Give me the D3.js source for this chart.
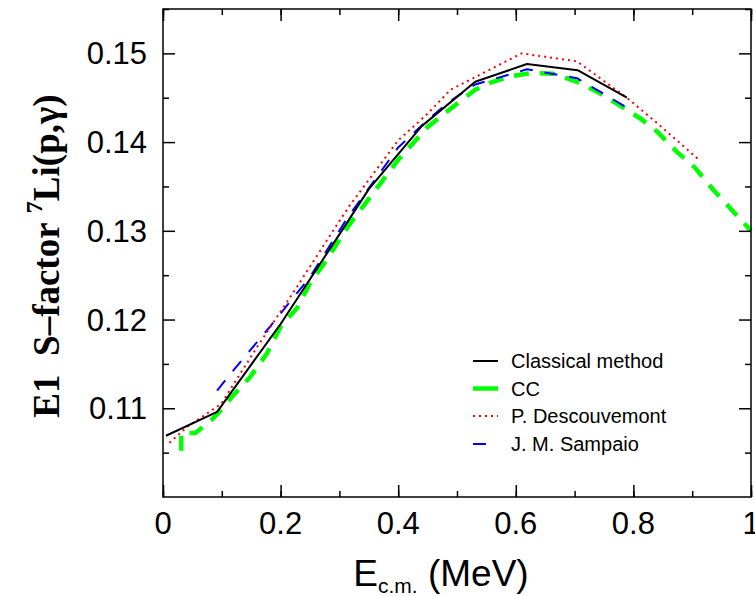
<!DOCTYPE html>
<html><head><meta charset="utf-8">
<script src="https://cdn.jsdelivr.net/npm/d3@7"></script>
<style>body{margin:0;background:#fff}svg{display:block}</style>
</head><body><svg id="c" width="755" height="596"></svg>
<script>
// ---- data ----
const classicalE = [0.005, 0.092, 0.2, 0.3, 0.35, 0.44, 0.531, 0.619, 0.705, 0.789];
const classicalS = [0.1069, 0.1096, 0.1195, 0.1296, 0.1347, 0.1418, 0.1468, 0.1488, 0.1481, 0.1450];

const ccE = [0.031, 0.031, 0.055, 0.083, 0.100, 0.120, 0.148, 0.177, 0.200, 0.228, 0.250, 0.276, 0.300, 0.317, 0.350, 0.400, 0.450, 0.488, 0.531, 0.557, 0.590, 0.630, 0.664, 0.704, 0.743, 0.780, 0.811, 0.840, 0.874, 0.905, 0.936, 0.964, 1.000];
const ccS = [0.1052, 0.1072, 0.1072, 0.1087, 0.1099, 0.1115, 0.1135, 0.1162, 0.1192, 0.1213, 0.1241, 0.1265, 0.1290, 0.1307, 0.1336, 0.1380, 0.1417, 0.1437, 0.1459, 0.1467, 0.1474, 0.1478, 0.1477, 0.1468, 0.1455, 0.1440, 0.1427, 0.1412, 0.1389, 0.1371, 0.1346, 0.1326, 0.1300];

const descE = [0.011, 0.041, 0.099, 0.160, 0.228, 0.296, 0.317, 0.400, 0.450, 0.489, 0.545, 0.610, 0.704, 0.789, 0.841, 0.910];
const descS = [0.1061, 0.1079, 0.1105, 0.1169, 0.1237, 0.1307, 0.1328, 0.1402, 0.1432, 0.1459, 0.1478, 0.1500, 0.1491, 0.1450, 0.1421, 0.1381];

const sampE = [0.092, 0.120, 0.182, 0.250, 0.313, 0.400, 0.450, 0.488, 0.531, 0.619, 0.704, 0.743, 0.786];
const sampS = [0.1120, 0.1143, 0.1192, 0.1248, 0.1314, 0.1394, 0.1425, 0.1446, 0.1465, 0.1482, 0.1472, 0.1457, 0.1440];

const xTicks = [0, 0.2, 0.4, 0.6, 0.8, 1];
const xTickLabels = ["0", "0.2", "0.4", "0.6", "0.8", "1"];
const yTicks = [0.11, 0.12, 0.13, 0.14, 0.15];
const yTickLabels = ["0.11", "0.12", "0.13", "0.14", "0.15"];
const legendLabels = ["Classical method", "CC", "P. Descouvemont", "J. M. Sampaio"];

// ---- layout ----
const L = 163, R = 751, T = 9, B = 497;
const x = d3.scaleLinear().domain([0, 1]).range([L, R]);
const y = d3.scaleLinear().domain([0.10, 0.155]).range([B, T]);
const svg = d3.select("#c");

const sans = "'Liberation Sans', Arial, Helvetica, sans-serif";
const serif = "'Liberation Serif', 'Times New Roman', Times, serif";

const series = [
  {E: classicalE, S: classicalS, color: "#000000", width: 2, dash: null},
  {E: ccE, S: ccS, color: "#00ff00", width: 4.5, dash: "15,11"},
  {E: descE, S: descS, color: "#ff0000", width: 2, dash: "2,4"},
  {E: sampE, S: sampS, color: "#0000ff", width: 2, dash: "13,12"}
];

const line = d3.line().x(d => x(d[0])).y(d => y(d[1]));
[1, 3, 2, 0].forEach(i => {
  const s = series[i];
  svg.append("path")
    .attr("d", line(s.E.map((e, k) => [e, s.S[k]])))
    .attr("fill", "none")
    .attr("stroke", s.color)
    .attr("stroke-width", s.width)
    .attr("stroke-dasharray", s.dash)
    .attr("stroke-linejoin", "round");
});

// ---- axes (ticks inside, mirrored) ----
const minorX = d3.range(0, 1.0001, 0.1), minorY = d3.range(0.105, 0.1551, 0.01);
const gB = svg.append("g").attr("transform", `translate(0,${B})`)
  .call(d3.axisTop(x).tickValues(minorX).tickSize(6).tickFormat(""));
const gB2 = svg.append("g").attr("transform", `translate(0,${B})`)
  .call(d3.axisTop(x).tickValues(xTicks).tickSize(12).tickFormat(""));
const gT = svg.append("g").attr("transform", `translate(0,${T})`)
  .call(d3.axisBottom(x).tickValues(minorX).tickSize(6).tickFormat(""));
const gT2 = svg.append("g").attr("transform", `translate(0,${T})`)
  .call(d3.axisBottom(x).tickValues(xTicks).tickSize(12).tickFormat(""));
const gL = svg.append("g").attr("transform", `translate(${L},0)`)
  .call(d3.axisRight(y).tickValues(minorY).tickSize(6).tickFormat(""));
const gL2 = svg.append("g").attr("transform", `translate(${L},0)`)
  .call(d3.axisRight(y).tickValues(yTicks).tickSize(12).tickFormat(""));
const gR = svg.append("g").attr("transform", `translate(${R},0)`)
  .call(d3.axisLeft(y).tickValues(minorY).tickSize(6).tickFormat(""));
const gR2 = svg.append("g").attr("transform", `translate(${R},0)`)
  .call(d3.axisLeft(y).tickValues(yTicks).tickSize(12).tickFormat(""));
[gB, gB2, gT, gT2, gL, gL2, gR, gR2].forEach(g => {
  g.select(".domain").remove();
  g.selectAll("line").attr("stroke", "#000").attr("stroke-width", 1.5);
});
svg.append("rect").attr("x", L).attr("y", T).attr("width", R - L).attr("height", B - T)
  .attr("fill", "none").attr("stroke", "#000").attr("stroke-width", 1.5);

// tick labels
svg.append("g").selectAll("text").data(xTicks).join("text")
  .attr("x", d => x(d)).attr("y", 534)
  .attr("text-anchor", "middle").attr("font-family", sans).attr("font-size", 31)
  .text((d, i) => xTickLabels[i]);
svg.append("g").selectAll("text").data(yTicks).join("text")
  .attr("x", 147).attr("y", d => y(d) + 11)
  .attr("text-anchor", "end").attr("font-family", sans).attr("font-size", 31)
  .text((d, i) => yTickLabels[i]);

// x title
const xt = svg.append("text").attr("x", 441).attr("y", 586)
  .attr("text-anchor", "middle").attr("font-family", sans).attr("font-size", 37);
xt.append("tspan").text("E");
xt.append("tspan").attr("font-size", 21).attr("dy", 7).text("c.m.");
xt.append("tspan").attr("dy", -7).text("\u00A0(MeV)");

// y title
const yt = svg.append("text").attr("transform", "translate(59,256) rotate(-90)")
  .attr("text-anchor", "middle").attr("font-family", serif).attr("font-weight", "bold").attr("font-size", 37);
yt.append("tspan").text("E1\u00A0\u00A0S\u2013factor\u00A0");
yt.append("tspan").attr("font-size", 24).attr("dy", -17).text("7");
yt.append("tspan").attr("dy", 17).text("Li(p,\u03B3)");

// legend
const legY = [361, 388.5, 416, 444];
const lg = svg.append("g");
legendLabels.forEach((lab, i) => {
  const s = series[i];
  const ln = lg.append("line").attr("x1", 473).attr("x2", 498).attr("y1", legY[i]).attr("y2", legY[i])
    .attr("stroke", s.color).attr("stroke-width", s.width);
  if (i === 2) ln.attr("stroke-dasharray", s.dash);
  if (i === 3) ln.attr("stroke-dasharray", "13,30");
  lg.append("text").attr("x", 511).attr("y", legY[i] + 7)
    .attr("font-family", sans).attr("font-size", 20).text(lab);
});
</script>
</body></html>
